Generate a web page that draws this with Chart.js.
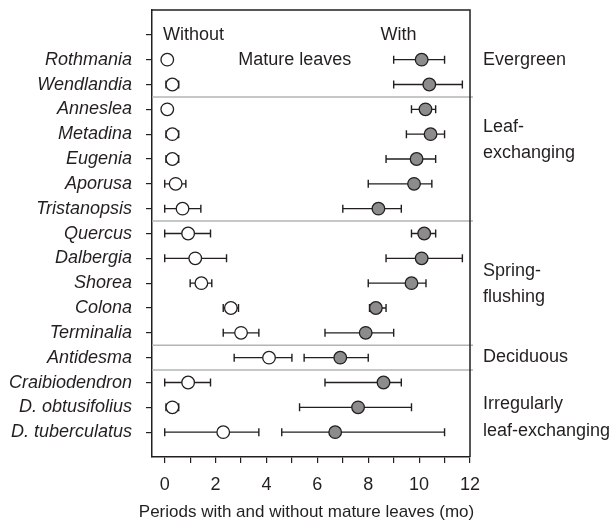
<!DOCTYPE html>
<html><head><meta charset="utf-8">
<script src="https://cdn.jsdelivr.net/npm/chart.js@4/dist/chart.umd.min.js"></script>
<style>html,body{margin:0;padding:0;background:#fff}#wrap{width:613px;height:523px}</style>
</head><body><div id="wrap"><canvas id="c" width="613" height="523"></canvas></div>
<script>
const species = ["", "Rothmania","Wendlandia","Anneslea","Metadina","Eugenia","Aporusa","Tristanopsis","Quercus","Dalbergia","Shorea","Colona","Terminalia","Antidesma","Craibiodendron","D. obtusifolius","D. tuberculatus"];
const rowIndex = [1,2,3,4,5,6,7,8,9,10,11,12,13,14,15,16];
const withoutMean = [0.1,0.3,0.1,0.3,0.3,0.43,0.7,0.92,1.2,1.44,2.6,3.0,4.1,0.92,0.3,2.3];
const withoutLo   = [0.1,0.05,0.1,0.05,0.05,0.0,0.0,0.0,0.0,1.0,2.3,2.3,2.73,0.0,0.05,0.0];
const withoutHi   = [0.1,0.55,0.1,0.55,0.55,0.83,1.42,1.8,2.43,1.85,2.9,3.7,5.0,1.8,0.55,3.7];
const withMean = [10.1,10.4,10.25,10.45,9.9,9.8,8.4,10.2,10.1,9.7,8.3,7.9,6.9,8.6,7.6,6.7];
const withLo   = [9.0,9.0,9.7,9.5,8.7,8.0,7.0,9.7,8.7,8.0,8.05,6.3,5.48,6.3,5.3,4.6];
const withHi   = [11.0,11.7,10.65,11.0,10.65,10.5,9.3,10.65,11.7,10.27,8.7,9.0,8.0,9.3,9.7,11.0];
const xTicks = [0,1,2,3,4,5,6,7,8,9,10,11,12];
const separators = [2.5,7.5,12.5,13.5];
const groupLabels = [["Evergreen",1],["Leaf-",3.71],["exchanging",4.76],["Spring-",9.5],["flushing",10.55],["Deciduous",12.97],["Irregularly",14.86],["leaf-exchanging",15.95]];
const headerLabels = [["Without",-0.07,0,"left"],["With",8.48,0,"left"],["Mature leaves",5.11,1,"center"]];
const xTitle = "Periods with and without mature leaves (mo)";

const FONT = "'Liberation Sans', Arial, Helvetica, sans-serif";
const INK = "#231f20";

const extras = {
  id:'extras',
  beforeDatasetsDraw(chart){
    const {ctx, scales:{x,y}, chartArea:a} = chart;
    ctx.save();
    ctx.strokeStyle = "#b4b4b4"; ctx.lineWidth = 1.5;
    separators.forEach(s=>{
      const py = y.getPixelForValue(s);
      ctx.beginPath(); ctx.moveTo(a.left, py); ctx.lineTo(a.right+3, py); ctx.stroke();
    });
    ctx.strokeStyle = INK; ctx.lineWidth = 1.4;
    const bar = (lo, hi, r) => {
      if (lo === hi) return;
      const py = y.getPixelForValue(r);
      const x1 = x.getPixelForValue(lo), x2 = x.getPixelForValue(hi);
      ctx.beginPath();
      ctx.moveTo(x1, py); ctx.lineTo(x2, py);
      ctx.moveTo(x1, py-4); ctx.lineTo(x1, py+4);
      ctx.moveTo(x2, py-4); ctx.lineTo(x2, py+4);
      ctx.stroke();
    };
    rowIndex.forEach((r,i)=>{ bar(withoutLo[i], withoutHi[i], r); bar(withLo[i], withHi[i], r); });
    ctx.restore();
  },
  afterDraw(chart){
    const {ctx, scales:{x,y}, chartArea:a} = chart;
    ctx.save();
    ctx.strokeStyle = INK; ctx.lineWidth = 1.5;
    ctx.beginPath();
    ctx.moveTo(a.left, a.top); ctx.lineTo(a.right, a.top); ctx.lineTo(a.right, a.bottom);
    ctx.stroke();
    ctx.fillStyle = INK;
    ctx.font = "18px " + FONT;
    ctx.textBaseline = "middle";
    headerLabels.forEach(([t,xv,yv,al])=>{
      ctx.textAlign = al;
      ctx.fillText(t, x.getPixelForValue(xv), y.getPixelForValue(yv));
    });
    ctx.textAlign = "left";
    groupLabels.forEach(([t,yv])=>{
      ctx.fillText(t, a.right + 13, y.getPixelForValue(yv));
    });
    ctx.font = "17px " + FONT;
    ctx.textAlign = "center";
    ctx.fillText(xTitle, chart.width/2, 512);
    ctx.restore();
  }
};

new Chart(document.getElementById('c'), {
  type:'scatter',
  data:{
    datasets:[
      {label:'Without', data: rowIndex.map((r,i)=>({x:withoutMean[i], y:r})),
       pointRadius:6.3, pointBackgroundColor:'#ffffff', pointBorderColor:INK, pointBorderWidth:1.3, showLine:false},
      {label:'With', data: rowIndex.map((r,i)=>({x:withMean[i], y:r})),
       pointRadius:6.3, pointBackgroundColor:'#8c8c8c', pointBorderColor:INK, pointBorderWidth:1.3, showLine:false}
    ]
  },
  options:{
    responsive:false, animation:false, devicePixelRatio:1,
    events:[],
    layout:{padding:{left:0,right:143,top:10,bottom:0}},
    plugins:{legend:{display:false}, tooltip:{enabled:false}},
    scales:{
      x:{type:'linear', min:-0.5, max:12,
        afterBuildTicks: s => { s.ticks = xTicks.map(v=>({value:v})); },
        afterFit: s => { s.height = 66; s.paddingLeft = 0; s.paddingRight = 0; },
        grid:{drawOnChartArea:false, drawTicks:true, tickLength:6, color:INK, lineWidth:1.2},
        border:{display:true, color:INK, width:1.5},
        ticks:{color:INK, padding:11, font:{family:FONT, size:18}, maxRotation:0, autoSkip:false,
          callback: v => (v % 2 === 0 ? String(v) : '')}
      },
      y:{type:'linear', min:-1, max:17, reverse:true,
        afterBuildTicks: s => { s.ticks = species.map((_,i)=>({value:i})); },
        afterFit: s => { s.width = 152; s.paddingTop = 0; s.paddingBottom = 0; },
        grid:{drawOnChartArea:false, drawTicks:true, tickLength:6, color:INK, lineWidth:1.2},
        border:{display:true, color:INK, width:1.5},
        ticks:{color:INK, padding:14, autoSkip:false, font:{family:FONT, size:18, style:'italic'},
          callback: v => species[v] || ''}
      }
    }
  },
  plugins:[extras]
});
</script></body></html>
